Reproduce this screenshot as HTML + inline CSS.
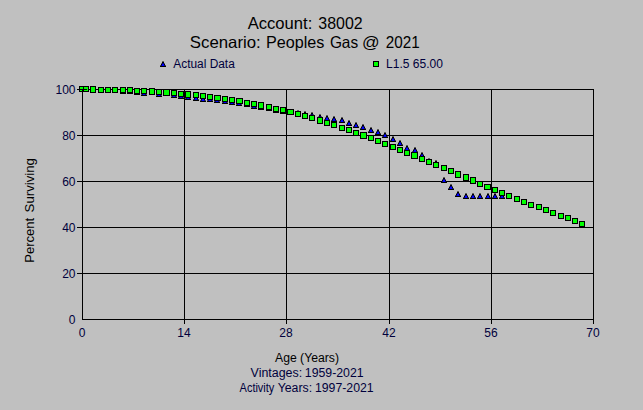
<!DOCTYPE html>
<html><head><meta charset="utf-8"><title>Account: 38002</title>
<style>
html,body{margin:0;padding:0;background:#c0c0c0;}
svg{display:block;font-family:"Liberation Sans",Arial,sans-serif;}
.t{fill:#000;}
.n{fill:#00003c;}
</style></head>
<body>
<svg width="643" height="410" viewBox="0 0 643 410">
<rect x="0" y="0" width="643" height="410" fill="#c0c0c0"/>
<text class="t" y="29" font-size="16.5"><tspan x="247.7" textLength="64.62" lengthAdjust="spacingAndGlyphs">Account:</tspan> <tspan x="318.3" textLength="44.31" lengthAdjust="spacingAndGlyphs">38002</tspan></text>
<text class="t" y="48" font-size="16.5"><tspan x="189.8" textLength="70.93" lengthAdjust="spacingAndGlyphs">Scenario:</tspan> <tspan x="266.0" textLength="58.42" lengthAdjust="spacingAndGlyphs">Peoples</tspan> <tspan x="329.9" textLength="28.23" lengthAdjust="spacingAndGlyphs">Gas</tspan> <tspan x="362.0" textLength="17.64" lengthAdjust="spacingAndGlyphs">@</tspan> <tspan x="385.8" textLength="33.91" lengthAdjust="spacingAndGlyphs">2021</tspan></text>
<g shape-rendering="crispEdges" stroke="#000" stroke-width="1" fill="none">
<line x1="82.5" y1="89" x2="82.5" y2="320"/>
<line x1="184.5" y1="89" x2="184.5" y2="324"/>
<line x1="286.5" y1="89" x2="286.5" y2="324"/>
<line x1="389.5" y1="89" x2="389.5" y2="324"/>
<line x1="491.5" y1="89" x2="491.5" y2="324"/>
<line x1="593.5" y1="89" x2="593.5" y2="324"/>
<line x1="77" y1="89.5" x2="594" y2="89.5"/>
<line x1="77" y1="135.5" x2="594" y2="135.5"/>
<line x1="77" y1="181.5" x2="594" y2="181.5"/>
<line x1="77" y1="227.5" x2="594" y2="227.5"/>
<line x1="77" y1="273.5" x2="594" y2="273.5"/>
<line x1="82" y1="319.5" x2="594" y2="319.5"/>
</g>
<text class="n" x="75.5" y="93.5" font-size="12" text-anchor="end">100</text>
<text class="n" x="75.5" y="139.5" font-size="12" text-anchor="end">80</text>
<text class="n" x="75.5" y="185.5" font-size="12" text-anchor="end">60</text>
<text class="n" x="75.5" y="231.5" font-size="12" text-anchor="end">40</text>
<text class="n" x="75.5" y="277.5" font-size="12" text-anchor="end">20</text>
<text class="n" x="75.5" y="323.5" font-size="12" text-anchor="end">0</text>
<text class="n" x="82" y="337" font-size="12" text-anchor="middle">0</text>
<text class="n" x="184" y="337" font-size="12" text-anchor="middle">14</text>
<text class="n" x="286" y="337" font-size="12" text-anchor="middle">28</text>
<text class="n" x="389" y="337" font-size="12" text-anchor="middle">42</text>
<text class="n" x="491" y="337" font-size="12" text-anchor="middle">56</text>
<text class="n" x="593" y="337" font-size="12" text-anchor="middle">70</text>
<g shape-rendering="crispEdges">
<g transform="translate(79,86)" shape-rendering="geometricPrecision"><path fill="#000" d="M2.5 0h1v1h-1zM2 1h2v1h-2zM1.5 2h3v1h-3zM1 3h4v1h-4zM0.4 4h5.2v1h-5.2zM0 5h6v1h-6z"/><path fill="#0000ff" d="M2.6 2h.9v1h-.9zM2 3h2v1h-2zM1.5 4h3v1h-3z"/></g>
<g transform="translate(83,86)" shape-rendering="geometricPrecision"><path fill="#000" d="M2.5 0h1v1h-1zM2 1h2v1h-2zM1.5 2h3v1h-3zM1 3h4v1h-4zM0.4 4h5.2v1h-5.2zM0 5h6v1h-6z"/><path fill="#0000ff" d="M2.6 2h.9v1h-.9zM2 3h2v1h-2zM1.5 4h3v1h-3z"/></g>
<g transform="translate(90,86)" shape-rendering="geometricPrecision"><path fill="#000" d="M2.5 0h1v1h-1zM2 1h2v1h-2zM1.5 2h3v1h-3zM1 3h4v1h-4zM0.4 4h5.2v1h-5.2zM0 5h6v1h-6z"/><path fill="#0000ff" d="M2.6 2h.9v1h-.9zM2 3h2v1h-2zM1.5 4h3v1h-3z"/></g>
<g transform="translate(98,87)" shape-rendering="geometricPrecision"><path fill="#000" d="M2.5 0h1v1h-1zM2 1h2v1h-2zM1.5 2h3v1h-3zM1 3h4v1h-4zM0.4 4h5.2v1h-5.2zM0 5h6v1h-6z"/><path fill="#0000ff" d="M2.6 2h.9v1h-.9zM2 3h2v1h-2zM1.5 4h3v1h-3z"/></g>
<g transform="translate(105,87)" shape-rendering="geometricPrecision"><path fill="#000" d="M2.5 0h1v1h-1zM2 1h2v1h-2zM1.5 2h3v1h-3zM1 3h4v1h-4zM0.4 4h5.2v1h-5.2zM0 5h6v1h-6z"/><path fill="#0000ff" d="M2.6 2h.9v1h-.9zM2 3h2v1h-2zM1.5 4h3v1h-3z"/></g>
<g transform="translate(112,87)" shape-rendering="geometricPrecision"><path fill="#000" d="M2.5 0h1v1h-1zM2 1h2v1h-2zM1.5 2h3v1h-3zM1 3h4v1h-4zM0.4 4h5.2v1h-5.2zM0 5h6v1h-6z"/><path fill="#0000ff" d="M2.6 2h.9v1h-.9zM2 3h2v1h-2zM1.5 4h3v1h-3z"/></g>
<g transform="translate(120,88)" shape-rendering="geometricPrecision"><path fill="#000" d="M2.5 0h1v1h-1zM2 1h2v1h-2zM1.5 2h3v1h-3zM1 3h4v1h-4zM0.4 4h5.2v1h-5.2zM0 5h6v1h-6z"/><path fill="#0000ff" d="M2.6 2h.9v1h-.9zM2 3h2v1h-2zM1.5 4h3v1h-3z"/></g>
<g transform="translate(127,88)" shape-rendering="geometricPrecision"><path fill="#000" d="M2.5 0h1v1h-1zM2 1h2v1h-2zM1.5 2h3v1h-3zM1 3h4v1h-4zM0.4 4h5.2v1h-5.2zM0 5h6v1h-6z"/><path fill="#0000ff" d="M2.6 2h.9v1h-.9zM2 3h2v1h-2zM1.5 4h3v1h-3z"/></g>
<g transform="translate(134,89)" shape-rendering="geometricPrecision"><path fill="#000" d="M2.5 0h1v1h-1zM2 1h2v1h-2zM1.5 2h3v1h-3zM1 3h4v1h-4zM0.4 4h5.2v1h-5.2zM0 5h6v1h-6z"/><path fill="#0000ff" d="M2.6 2h.9v1h-.9zM2 3h2v1h-2zM1.5 4h3v1h-3z"/></g>
<g transform="translate(141,90)" shape-rendering="geometricPrecision"><path fill="#000" d="M2.5 0h1v1h-1zM2 1h2v1h-2zM1.5 2h3v1h-3zM1 3h4v1h-4zM0.4 4h5.2v1h-5.2zM0 5h6v1h-6z"/><path fill="#0000ff" d="M2.6 2h.9v1h-.9zM2 3h2v1h-2zM1.5 4h3v1h-3z"/></g>
<g transform="translate(149,89)" shape-rendering="geometricPrecision"><path fill="#000" d="M2.5 0h1v1h-1zM2 1h2v1h-2zM1.5 2h3v1h-3zM1 3h4v1h-4zM0.4 4h5.2v1h-5.2zM0 5h6v1h-6z"/><path fill="#0000ff" d="M2.6 2h.9v1h-.9zM2 3h2v1h-2zM1.5 4h3v1h-3z"/></g>
<g transform="translate(156,91)" shape-rendering="geometricPrecision"><path fill="#000" d="M2.5 0h1v1h-1zM2 1h2v1h-2zM1.5 2h3v1h-3zM1 3h4v1h-4zM0.4 4h5.2v1h-5.2zM0 5h6v1h-6z"/><path fill="#0000ff" d="M2.6 2h.9v1h-.9zM2 3h2v1h-2zM1.5 4h3v1h-3z"/></g>
<g transform="translate(163,90)" shape-rendering="geometricPrecision"><path fill="#000" d="M2.5 0h1v1h-1zM2 1h2v1h-2zM1.5 2h3v1h-3zM1 3h4v1h-4zM0.4 4h5.2v1h-5.2zM0 5h6v1h-6z"/><path fill="#0000ff" d="M2.6 2h.9v1h-.9zM2 3h2v1h-2zM1.5 4h3v1h-3z"/></g>
<g transform="translate(171,92)" shape-rendering="geometricPrecision"><path fill="#000" d="M2.5 0h1v1h-1zM2 1h2v1h-2zM1.5 2h3v1h-3zM1 3h4v1h-4zM0.4 4h5.2v1h-5.2zM0 5h6v1h-6z"/><path fill="#0000ff" d="M2.6 2h.9v1h-.9zM2 3h2v1h-2zM1.5 4h3v1h-3z"/></g>
<g transform="translate(178,93)" shape-rendering="geometricPrecision"><path fill="#000" d="M2.5 0h1v1h-1zM2 1h2v1h-2zM1.5 2h3v1h-3zM1 3h4v1h-4zM0.4 4h5.2v1h-5.2zM0 5h6v1h-6z"/><path fill="#0000ff" d="M2.6 2h.9v1h-.9zM2 3h2v1h-2zM1.5 4h3v1h-3z"/></g>
<g transform="translate(185,94)" shape-rendering="geometricPrecision"><path fill="#000" d="M2.5 0h1v1h-1zM2 1h2v1h-2zM1.5 2h3v1h-3zM1 3h4v1h-4zM0.4 4h5.2v1h-5.2zM0 5h6v1h-6z"/><path fill="#0000ff" d="M2.6 2h.9v1h-.9zM2 3h2v1h-2zM1.5 4h3v1h-3z"/></g>
<g transform="translate(193,95)" shape-rendering="geometricPrecision"><path fill="#000" d="M2.5 0h1v1h-1zM2 1h2v1h-2zM1.5 2h3v1h-3zM1 3h4v1h-4zM0.4 4h5.2v1h-5.2zM0 5h6v1h-6z"/><path fill="#0000ff" d="M2.6 2h.9v1h-.9zM2 3h2v1h-2zM1.5 4h3v1h-3z"/></g>
<g transform="translate(200,96)" shape-rendering="geometricPrecision"><path fill="#000" d="M2.5 0h1v1h-1zM2 1h2v1h-2zM1.5 2h3v1h-3zM1 3h4v1h-4zM0.4 4h5.2v1h-5.2zM0 5h6v1h-6z"/><path fill="#0000ff" d="M2.6 2h.9v1h-.9zM2 3h2v1h-2zM1.5 4h3v1h-3z"/></g>
<g transform="translate(207,96)" shape-rendering="geometricPrecision"><path fill="#000" d="M2.5 0h1v1h-1zM2 1h2v1h-2zM1.5 2h3v1h-3zM1 3h4v1h-4zM0.4 4h5.2v1h-5.2zM0 5h6v1h-6z"/><path fill="#0000ff" d="M2.6 2h.9v1h-.9zM2 3h2v1h-2zM1.5 4h3v1h-3z"/></g>
<g transform="translate(214,97)" shape-rendering="geometricPrecision"><path fill="#000" d="M2.5 0h1v1h-1zM2 1h2v1h-2zM1.5 2h3v1h-3zM1 3h4v1h-4zM0.4 4h5.2v1h-5.2zM0 5h6v1h-6z"/><path fill="#0000ff" d="M2.6 2h.9v1h-.9zM2 3h2v1h-2zM1.5 4h3v1h-3z"/></g>
<g transform="translate(222,98)" shape-rendering="geometricPrecision"><path fill="#000" d="M2.5 0h1v1h-1zM2 1h2v1h-2zM1.5 2h3v1h-3zM1 3h4v1h-4zM0.4 4h5.2v1h-5.2zM0 5h6v1h-6z"/><path fill="#0000ff" d="M2.6 2h.9v1h-.9zM2 3h2v1h-2zM1.5 4h3v1h-3z"/></g>
<g transform="translate(229,99)" shape-rendering="geometricPrecision"><path fill="#000" d="M2.5 0h1v1h-1zM2 1h2v1h-2zM1.5 2h3v1h-3zM1 3h4v1h-4zM0.4 4h5.2v1h-5.2zM0 5h6v1h-6z"/><path fill="#0000ff" d="M2.6 2h.9v1h-.9zM2 3h2v1h-2zM1.5 4h3v1h-3z"/></g>
<g transform="translate(236,100)" shape-rendering="geometricPrecision"><path fill="#000" d="M2.5 0h1v1h-1zM2 1h2v1h-2zM1.5 2h3v1h-3zM1 3h4v1h-4zM0.4 4h5.2v1h-5.2zM0 5h6v1h-6z"/><path fill="#0000ff" d="M2.6 2h.9v1h-.9zM2 3h2v1h-2zM1.5 4h3v1h-3z"/></g>
<g transform="translate(244,101)" shape-rendering="geometricPrecision"><path fill="#000" d="M2.5 0h1v1h-1zM2 1h2v1h-2zM1.5 2h3v1h-3zM1 3h4v1h-4zM0.4 4h5.2v1h-5.2zM0 5h6v1h-6z"/><path fill="#0000ff" d="M2.6 2h.9v1h-.9zM2 3h2v1h-2zM1.5 4h3v1h-3z"/></g>
<g transform="translate(251,103)" shape-rendering="geometricPrecision"><path fill="#000" d="M2.5 0h1v1h-1zM2 1h2v1h-2zM1.5 2h3v1h-3zM1 3h4v1h-4zM0.4 4h5.2v1h-5.2zM0 5h6v1h-6z"/><path fill="#0000ff" d="M2.6 2h.9v1h-.9zM2 3h2v1h-2zM1.5 4h3v1h-3z"/></g>
<g transform="translate(258,104)" shape-rendering="geometricPrecision"><path fill="#000" d="M2.5 0h1v1h-1zM2 1h2v1h-2zM1.5 2h3v1h-3zM1 3h4v1h-4zM0.4 4h5.2v1h-5.2zM0 5h6v1h-6z"/><path fill="#0000ff" d="M2.6 2h.9v1h-.9zM2 3h2v1h-2zM1.5 4h3v1h-3z"/></g>
<g transform="translate(266,105)" shape-rendering="geometricPrecision"><path fill="#000" d="M2.5 0h1v1h-1zM2 1h2v1h-2zM1.5 2h3v1h-3zM1 3h4v1h-4zM0.4 4h5.2v1h-5.2zM0 5h6v1h-6z"/><path fill="#0000ff" d="M2.6 2h.9v1h-.9zM2 3h2v1h-2zM1.5 4h3v1h-3z"/></g>
<g transform="translate(273,107)" shape-rendering="geometricPrecision"><path fill="#000" d="M2.5 0h1v1h-1zM2 1h2v1h-2zM1.5 2h3v1h-3zM1 3h4v1h-4zM0.4 4h5.2v1h-5.2zM0 5h6v1h-6z"/><path fill="#0000ff" d="M2.6 2h.9v1h-.9zM2 3h2v1h-2zM1.5 4h3v1h-3z"/></g>
<g transform="translate(280,108)" shape-rendering="geometricPrecision"><path fill="#000" d="M2.5 0h1v1h-1zM2 1h2v1h-2zM1.5 2h3v1h-3zM1 3h4v1h-4zM0.4 4h5.2v1h-5.2zM0 5h6v1h-6z"/><path fill="#0000ff" d="M2.6 2h.9v1h-.9zM2 3h2v1h-2zM1.5 4h3v1h-3z"/></g>
<g transform="translate(287,109)" shape-rendering="geometricPrecision"><path fill="#000" d="M2.5 0h1v1h-1zM2 1h2v1h-2zM1.5 2h3v1h-3zM1 3h4v1h-4zM0.4 4h5.2v1h-5.2zM0 5h6v1h-6z"/><path fill="#0000ff" d="M2.6 2h.9v1h-.9zM2 3h2v1h-2zM1.5 4h3v1h-3z"/></g>
<g transform="translate(295,110)" shape-rendering="geometricPrecision"><path fill="#000" d="M2.5 0h1v1h-1zM2 1h2v1h-2zM1.5 2h3v1h-3zM1 3h4v1h-4zM0.4 4h5.2v1h-5.2zM0 5h6v1h-6z"/><path fill="#0000ff" d="M2.6 2h.9v1h-.9zM2 3h2v1h-2zM1.5 4h3v1h-3z"/></g>
<g transform="translate(302,111)" shape-rendering="geometricPrecision"><path fill="#000" d="M2.5 0h1v1h-1zM2 1h2v1h-2zM1.5 2h3v1h-3zM1 3h4v1h-4zM0.4 4h5.2v1h-5.2zM0 5h6v1h-6z"/><path fill="#0000ff" d="M2.6 2h.9v1h-.9zM2 3h2v1h-2zM1.5 4h3v1h-3z"/></g>
<g transform="translate(309,112)" shape-rendering="geometricPrecision"><path fill="#000" d="M2.5 0h1v1h-1zM2 1h2v1h-2zM1.5 2h3v1h-3zM1 3h4v1h-4zM0.4 4h5.2v1h-5.2zM0 5h6v1h-6z"/><path fill="#0000ff" d="M2.6 2h.9v1h-.9zM2 3h2v1h-2zM1.5 4h3v1h-3z"/></g>
<g transform="translate(317,114)" shape-rendering="geometricPrecision"><path fill="#000" d="M2.5 0h1v1h-1zM2 1h2v1h-2zM1.5 2h3v1h-3zM1 3h4v1h-4zM0.4 4h5.2v1h-5.2zM0 5h6v1h-6z"/><path fill="#0000ff" d="M2.6 2h.9v1h-.9zM2 3h2v1h-2zM1.5 4h3v1h-3z"/></g>
<g transform="translate(324,115)" shape-rendering="geometricPrecision"><path fill="#000" d="M2.5 0h1v1h-1zM2 1h2v1h-2zM1.5 2h3v1h-3zM1 3h4v1h-4zM0.4 4h5.2v1h-5.2zM0 5h6v1h-6z"/><path fill="#0000ff" d="M2.6 2h.9v1h-.9zM2 3h2v1h-2zM1.5 4h3v1h-3z"/></g>
<g transform="translate(331,116)" shape-rendering="geometricPrecision"><path fill="#000" d="M2.5 0h1v1h-1zM2 1h2v1h-2zM1.5 2h3v1h-3zM1 3h4v1h-4zM0.4 4h5.2v1h-5.2zM0 5h6v1h-6z"/><path fill="#0000ff" d="M2.6 2h.9v1h-.9zM2 3h2v1h-2zM1.5 4h3v1h-3z"/></g>
<g transform="translate(339,117)" shape-rendering="geometricPrecision"><path fill="#000" d="M2.5 0h1v1h-1zM2 1h2v1h-2zM1.5 2h3v1h-3zM1 3h4v1h-4zM0.4 4h5.2v1h-5.2zM0 5h6v1h-6z"/><path fill="#0000ff" d="M2.6 2h.9v1h-.9zM2 3h2v1h-2zM1.5 4h3v1h-3z"/></g>
<g transform="translate(346,120)" shape-rendering="geometricPrecision"><path fill="#000" d="M2.5 0h1v1h-1zM2 1h2v1h-2zM1.5 2h3v1h-3zM1 3h4v1h-4zM0.4 4h5.2v1h-5.2zM0 5h6v1h-6z"/><path fill="#0000ff" d="M2.6 2h.9v1h-.9zM2 3h2v1h-2zM1.5 4h3v1h-3z"/></g>
<g transform="translate(353,122)" shape-rendering="geometricPrecision"><path fill="#000" d="M2.5 0h1v1h-1zM2 1h2v1h-2zM1.5 2h3v1h-3zM1 3h4v1h-4zM0.4 4h5.2v1h-5.2zM0 5h6v1h-6z"/><path fill="#0000ff" d="M2.6 2h.9v1h-.9zM2 3h2v1h-2zM1.5 4h3v1h-3z"/></g>
<g transform="translate(360,124)" shape-rendering="geometricPrecision"><path fill="#000" d="M2.5 0h1v1h-1zM2 1h2v1h-2zM1.5 2h3v1h-3zM1 3h4v1h-4zM0.4 4h5.2v1h-5.2zM0 5h6v1h-6z"/><path fill="#0000ff" d="M2.6 2h.9v1h-.9zM2 3h2v1h-2zM1.5 4h3v1h-3z"/></g>
<g transform="translate(368,127)" shape-rendering="geometricPrecision"><path fill="#000" d="M2.5 0h1v1h-1zM2 1h2v1h-2zM1.5 2h3v1h-3zM1 3h4v1h-4zM0.4 4h5.2v1h-5.2zM0 5h6v1h-6z"/><path fill="#0000ff" d="M2.6 2h.9v1h-.9zM2 3h2v1h-2zM1.5 4h3v1h-3z"/></g>
<g transform="translate(375,129)" shape-rendering="geometricPrecision"><path fill="#000" d="M2.5 0h1v1h-1zM2 1h2v1h-2zM1.5 2h3v1h-3zM1 3h4v1h-4zM0.4 4h5.2v1h-5.2zM0 5h6v1h-6z"/><path fill="#0000ff" d="M2.6 2h.9v1h-.9zM2 3h2v1h-2zM1.5 4h3v1h-3z"/></g>
<g transform="translate(382,132)" shape-rendering="geometricPrecision"><path fill="#000" d="M2.5 0h1v1h-1zM2 1h2v1h-2zM1.5 2h3v1h-3zM1 3h4v1h-4zM0.4 4h5.2v1h-5.2zM0 5h6v1h-6z"/><path fill="#0000ff" d="M2.6 2h.9v1h-.9zM2 3h2v1h-2zM1.5 4h3v1h-3z"/></g>
<g transform="translate(390,136)" shape-rendering="geometricPrecision"><path fill="#000" d="M2.5 0h1v1h-1zM2 1h2v1h-2zM1.5 2h3v1h-3zM1 3h4v1h-4zM0.4 4h5.2v1h-5.2zM0 5h6v1h-6z"/><path fill="#0000ff" d="M2.6 2h.9v1h-.9zM2 3h2v1h-2zM1.5 4h3v1h-3z"/></g>
<g transform="translate(397,140)" shape-rendering="geometricPrecision"><path fill="#000" d="M2.5 0h1v1h-1zM2 1h2v1h-2zM1.5 2h3v1h-3zM1 3h4v1h-4zM0.4 4h5.2v1h-5.2zM0 5h6v1h-6z"/><path fill="#0000ff" d="M2.6 2h.9v1h-.9zM2 3h2v1h-2zM1.5 4h3v1h-3z"/></g>
<g transform="translate(404,145)" shape-rendering="geometricPrecision"><path fill="#000" d="M2.5 0h1v1h-1zM2 1h2v1h-2zM1.5 2h3v1h-3zM1 3h4v1h-4zM0.4 4h5.2v1h-5.2zM0 5h6v1h-6z"/><path fill="#0000ff" d="M2.6 2h.9v1h-.9zM2 3h2v1h-2zM1.5 4h3v1h-3z"/></g>
<g transform="translate(412,147)" shape-rendering="geometricPrecision"><path fill="#000" d="M2.5 0h1v1h-1zM2 1h2v1h-2zM1.5 2h3v1h-3zM1 3h4v1h-4zM0.4 4h5.2v1h-5.2zM0 5h6v1h-6z"/><path fill="#0000ff" d="M2.6 2h.9v1h-.9zM2 3h2v1h-2zM1.5 4h3v1h-3z"/></g>
<g transform="translate(419,152)" shape-rendering="geometricPrecision"><path fill="#000" d="M2.5 0h1v1h-1zM2 1h2v1h-2zM1.5 2h3v1h-3zM1 3h4v1h-4zM0.4 4h5.2v1h-5.2zM0 5h6v1h-6z"/><path fill="#0000ff" d="M2.6 2h.9v1h-.9zM2 3h2v1h-2zM1.5 4h3v1h-3z"/></g>
<g transform="translate(426,158)" shape-rendering="geometricPrecision"><path fill="#000" d="M2.5 0h1v1h-1zM2 1h2v1h-2zM1.5 2h3v1h-3zM1 3h4v1h-4zM0.4 4h5.2v1h-5.2zM0 5h6v1h-6z"/><path fill="#0000ff" d="M2.6 2h.9v1h-.9zM2 3h2v1h-2zM1.5 4h3v1h-3z"/></g>
<g transform="translate(433,160)" shape-rendering="geometricPrecision"><path fill="#000" d="M2.5 0h1v1h-1zM2 1h2v1h-2zM1.5 2h3v1h-3zM1 3h4v1h-4zM0.4 4h5.2v1h-5.2zM0 5h6v1h-6z"/><path fill="#0000ff" d="M2.6 2h.9v1h-.9zM2 3h2v1h-2zM1.5 4h3v1h-3z"/></g>
<g transform="translate(441,177)" shape-rendering="geometricPrecision"><path fill="#000" d="M2.5 0h1v1h-1zM2 1h2v1h-2zM1.5 2h3v1h-3zM1 3h4v1h-4zM0.4 4h5.2v1h-5.2zM0 5h6v1h-6z"/><path fill="#0000ff" d="M2.6 2h.9v1h-.9zM2 3h2v1h-2zM1.5 4h3v1h-3z"/></g>
<g transform="translate(448,184)" shape-rendering="geometricPrecision"><path fill="#000" d="M2.5 0h1v1h-1zM2 1h2v1h-2zM1.5 2h3v1h-3zM1 3h4v1h-4zM0.4 4h5.2v1h-5.2zM0 5h6v1h-6z"/><path fill="#0000ff" d="M2.6 2h.9v1h-.9zM2 3h2v1h-2zM1.5 4h3v1h-3z"/></g>
<g transform="translate(455,191)" shape-rendering="geometricPrecision"><path fill="#000" d="M2.5 0h1v1h-1zM2 1h2v1h-2zM1.5 2h3v1h-3zM1 3h4v1h-4zM0.4 4h5.2v1h-5.2zM0 5h6v1h-6z"/><path fill="#0000ff" d="M2.6 2h.9v1h-.9zM2 3h2v1h-2zM1.5 4h3v1h-3z"/></g>
<g transform="translate(463,193)" shape-rendering="geometricPrecision"><path fill="#000" d="M2.5 0h1v1h-1zM2 1h2v1h-2zM1.5 2h3v1h-3zM1 3h4v1h-4zM0.4 4h5.2v1h-5.2zM0 5h6v1h-6z"/><path fill="#0000ff" d="M2.6 2h.9v1h-.9zM2 3h2v1h-2zM1.5 4h3v1h-3z"/></g>
<g transform="translate(470,193)" shape-rendering="geometricPrecision"><path fill="#000" d="M2.5 0h1v1h-1zM2 1h2v1h-2zM1.5 2h3v1h-3zM1 3h4v1h-4zM0.4 4h5.2v1h-5.2zM0 5h6v1h-6z"/><path fill="#0000ff" d="M2.6 2h.9v1h-.9zM2 3h2v1h-2zM1.5 4h3v1h-3z"/></g>
<g transform="translate(477,193)" shape-rendering="geometricPrecision"><path fill="#000" d="M2.5 0h1v1h-1zM2 1h2v1h-2zM1.5 2h3v1h-3zM1 3h4v1h-4zM0.4 4h5.2v1h-5.2zM0 5h6v1h-6z"/><path fill="#0000ff" d="M2.6 2h.9v1h-.9zM2 3h2v1h-2zM1.5 4h3v1h-3z"/></g>
<g transform="translate(485,193)" shape-rendering="geometricPrecision"><path fill="#000" d="M2.5 0h1v1h-1zM2 1h2v1h-2zM1.5 2h3v1h-3zM1 3h4v1h-4zM0.4 4h5.2v1h-5.2zM0 5h6v1h-6z"/><path fill="#0000ff" d="M2.6 2h.9v1h-.9zM2 3h2v1h-2zM1.5 4h3v1h-3z"/></g>
<g transform="translate(492,193)" shape-rendering="geometricPrecision"><path fill="#000" d="M2.5 0h1v1h-1zM2 1h2v1h-2zM1.5 2h3v1h-3zM1 3h4v1h-4zM0.4 4h5.2v1h-5.2zM0 5h6v1h-6z"/><path fill="#0000ff" d="M2.6 2h.9v1h-.9zM2 3h2v1h-2zM1.5 4h3v1h-3z"/></g>
<g transform="translate(499,193)" shape-rendering="geometricPrecision"><path fill="#000" d="M2.5 0h1v1h-1zM2 1h2v1h-2zM1.5 2h3v1h-3zM1 3h4v1h-4zM0.4 4h5.2v1h-5.2zM0 5h6v1h-6z"/><path fill="#0000ff" d="M2.6 2h.9v1h-.9zM2 3h2v1h-2zM1.5 4h3v1h-3z"/></g>
<rect x="79" y="86" width="6" height="6" fill="#000"/><rect x="80" y="87" width="4" height="4" fill="#00ff00"/>
<rect x="83" y="86" width="6" height="6" fill="#000"/><rect x="84" y="87" width="4" height="4" fill="#00ff00"/>
<rect x="90" y="86" width="6" height="7" fill="#000"/><rect x="91" y="87" width="4" height="5" fill="#00ff00"/>
<rect x="98" y="87" width="6" height="6" fill="#000"/><rect x="99" y="88" width="4" height="4" fill="#00ff00"/>
<rect x="105" y="87" width="6" height="6" fill="#000"/><rect x="106" y="88" width="4" height="4" fill="#00ff00"/>
<rect x="112" y="87" width="6" height="6" fill="#000"/><rect x="113" y="88" width="4" height="4" fill="#00ff00"/>
<rect x="120" y="87" width="6" height="6" fill="#000"/><rect x="121" y="88" width="4" height="4" fill="#00ff00"/>
<rect x="127" y="87" width="6" height="6" fill="#000"/><rect x="128" y="88" width="4" height="4" fill="#00ff00"/>
<rect x="134" y="88" width="6" height="6" fill="#000"/><rect x="135" y="89" width="4" height="4" fill="#00ff00"/>
<rect x="141" y="88" width="6" height="6" fill="#000"/><rect x="142" y="89" width="4" height="4" fill="#00ff00"/>
<rect x="149" y="88" width="6" height="7" fill="#000"/><rect x="150" y="89" width="4" height="5" fill="#00ff00"/>
<rect x="156" y="89" width="6" height="6" fill="#000"/><rect x="157" y="90" width="4" height="4" fill="#00ff00"/>
<rect x="163" y="89" width="7" height="7" fill="#000"/><rect x="164" y="90" width="5" height="5" fill="#00ff00"/>
<rect x="171" y="90" width="6" height="6" fill="#000"/><rect x="172" y="91" width="4" height="4" fill="#00ff00"/>
<rect x="178" y="91" width="6" height="6" fill="#000"/><rect x="179" y="92" width="4" height="4" fill="#00ff00"/>
<rect x="185" y="91" width="6" height="7" fill="#000"/><rect x="186" y="92" width="4" height="5" fill="#00ff00"/>
<rect x="193" y="92" width="6" height="6" fill="#000"/><rect x="194" y="93" width="4" height="4" fill="#00ff00"/>
<rect x="200" y="93" width="6" height="6" fill="#000"/><rect x="201" y="94" width="4" height="4" fill="#00ff00"/>
<rect x="207" y="94" width="6" height="6" fill="#000"/><rect x="208" y="95" width="4" height="4" fill="#00ff00"/>
<rect x="214" y="95" width="7" height="6" fill="#000"/><rect x="215" y="96" width="5" height="4" fill="#00ff00"/>
<rect x="222" y="96" width="6" height="6" fill="#000"/><rect x="223" y="97" width="4" height="4" fill="#00ff00"/>
<rect x="229" y="97" width="6" height="6" fill="#000"/><rect x="230" y="98" width="4" height="4" fill="#00ff00"/>
<rect x="236" y="98" width="7" height="6" fill="#000"/><rect x="237" y="99" width="5" height="4" fill="#00ff00"/>
<rect x="244" y="100" width="6" height="6" fill="#000"/><rect x="245" y="101" width="4" height="4" fill="#00ff00"/>
<rect x="251" y="101" width="6" height="6" fill="#000"/><rect x="252" y="102" width="4" height="4" fill="#00ff00"/>
<rect x="258" y="102" width="6" height="7" fill="#000"/><rect x="259" y="103" width="4" height="5" fill="#00ff00"/>
<rect x="266" y="104" width="6" height="6" fill="#000"/><rect x="267" y="105" width="4" height="4" fill="#00ff00"/>
<rect x="273" y="106" width="6" height="6" fill="#000"/><rect x="274" y="107" width="4" height="4" fill="#00ff00"/>
<rect x="280" y="107" width="6" height="6" fill="#000"/><rect x="281" y="108" width="4" height="4" fill="#00ff00"/>
<rect x="287" y="109" width="7" height="6" fill="#000"/><rect x="288" y="110" width="5" height="4" fill="#00ff00"/>
<rect x="295" y="111" width="6" height="6" fill="#000"/><rect x="296" y="112" width="4" height="4" fill="#00ff00"/>
<rect x="302" y="113" width="6" height="6" fill="#000"/><rect x="303" y="114" width="4" height="4" fill="#00ff00"/>
<rect x="309" y="115" width="6" height="6" fill="#000"/><rect x="310" y="116" width="4" height="4" fill="#00ff00"/>
<rect x="317" y="117" width="6" height="7" fill="#000"/><rect x="318" y="118" width="4" height="5" fill="#00ff00"/>
<rect x="324" y="120" width="6" height="6" fill="#000"/><rect x="325" y="121" width="4" height="4" fill="#00ff00"/>
<rect x="331" y="122" width="6" height="6" fill="#000"/><rect x="332" y="123" width="4" height="4" fill="#00ff00"/>
<rect x="339" y="125" width="6" height="6" fill="#000"/><rect x="340" y="126" width="4" height="4" fill="#00ff00"/>
<rect x="346" y="127" width="6" height="6" fill="#000"/><rect x="347" y="128" width="4" height="4" fill="#00ff00"/>
<rect x="353" y="130" width="6" height="6" fill="#000"/><rect x="354" y="131" width="4" height="4" fill="#00ff00"/>
<rect x="360" y="132" width="7" height="7" fill="#000"/><rect x="361" y="133" width="5" height="5" fill="#00ff00"/>
<rect x="368" y="135" width="6" height="6" fill="#000"/><rect x="369" y="136" width="4" height="4" fill="#00ff00"/>
<rect x="375" y="138" width="6" height="6" fill="#000"/><rect x="376" y="139" width="4" height="4" fill="#00ff00"/>
<rect x="382" y="141" width="6" height="6" fill="#000"/><rect x="383" y="142" width="4" height="4" fill="#00ff00"/>
<rect x="390" y="144" width="6" height="6" fill="#000"/><rect x="391" y="145" width="4" height="4" fill="#00ff00"/>
<rect x="397" y="147" width="6" height="6" fill="#000"/><rect x="398" y="148" width="4" height="4" fill="#00ff00"/>
<rect x="404" y="150" width="6" height="6" fill="#000"/><rect x="405" y="151" width="4" height="4" fill="#00ff00"/>
<rect x="411" y="152" width="7" height="7" fill="#000"/><rect x="412" y="153" width="5" height="5" fill="#00ff00"/>
<rect x="419" y="156" width="6" height="6" fill="#000"/><rect x="420" y="157" width="4" height="4" fill="#00ff00"/>
<rect x="426" y="159" width="6" height="6" fill="#000"/><rect x="427" y="160" width="4" height="4" fill="#00ff00"/>
<rect x="433" y="162" width="6" height="6" fill="#000"/><rect x="434" y="163" width="4" height="4" fill="#00ff00"/>
<rect x="441" y="165" width="6" height="6" fill="#000"/><rect x="442" y="166" width="4" height="4" fill="#00ff00"/>
<rect x="448" y="168" width="6" height="6" fill="#000"/><rect x="449" y="169" width="4" height="4" fill="#00ff00"/>
<rect x="455" y="171" width="6" height="7" fill="#000"/><rect x="456" y="172" width="4" height="5" fill="#00ff00"/>
<rect x="463" y="174" width="6" height="7" fill="#000"/><rect x="464" y="175" width="4" height="5" fill="#00ff00"/>
<rect x="470" y="177" width="6" height="7" fill="#000"/><rect x="471" y="178" width="4" height="5" fill="#00ff00"/>
<rect x="477" y="181" width="6" height="6" fill="#000"/><rect x="478" y="182" width="4" height="4" fill="#00ff00"/>
<rect x="484" y="184" width="7" height="6" fill="#000"/><rect x="485" y="185" width="5" height="4" fill="#00ff00"/>
<rect x="492" y="187" width="6" height="6" fill="#000"/><rect x="493" y="188" width="4" height="4" fill="#00ff00"/>
<rect x="499" y="190" width="6" height="6" fill="#000"/><rect x="500" y="191" width="4" height="4" fill="#00ff00"/>
<rect x="506" y="193" width="6" height="6" fill="#000"/><rect x="507" y="194" width="4" height="4" fill="#00ff00"/>
<rect x="514" y="196" width="6" height="6" fill="#000"/><rect x="515" y="197" width="4" height="4" fill="#00ff00"/>
<rect x="521" y="199" width="6" height="6" fill="#000"/><rect x="522" y="200" width="4" height="4" fill="#00ff00"/>
<rect x="528" y="202" width="6" height="6" fill="#000"/><rect x="529" y="203" width="4" height="4" fill="#00ff00"/>
<rect x="536" y="204" width="6" height="6" fill="#000"/><rect x="537" y="205" width="4" height="4" fill="#00ff00"/>
<rect x="543" y="207" width="6" height="6" fill="#000"/><rect x="544" y="208" width="4" height="4" fill="#00ff00"/>
<rect x="550" y="210" width="6" height="6" fill="#000"/><rect x="551" y="211" width="4" height="4" fill="#00ff00"/>
<rect x="558" y="213" width="6" height="6" fill="#000"/><rect x="559" y="214" width="4" height="4" fill="#00ff00"/>
<rect x="565" y="215" width="6" height="6" fill="#000"/><rect x="566" y="216" width="4" height="4" fill="#00ff00"/>
<rect x="572" y="218" width="6" height="6" fill="#000"/><rect x="573" y="219" width="4" height="4" fill="#00ff00"/>
<rect x="579" y="221" width="6" height="6" fill="#000"/><rect x="580" y="222" width="4" height="4" fill="#00ff00"/>
<rect x="80" y="89" width="7" height="1" fill="#000"/><rect x="82" y="90" width="1" height="1" fill="#000"/>
<g transform="translate(160,61)" shape-rendering="geometricPrecision"><path fill="#000" d="M2.5 0h1v1h-1zM2 1h2v1h-2zM1.5 2h3v1h-3zM1 3h4v1h-4zM0.4 4h5.2v1h-5.2zM0 5h6v1h-6z"/><path fill="#0000ff" d="M2.6 2h.9v1h-.9zM2 3h2v1h-2zM1.5 4h3v1h-3z"/></g>
<rect x="373" y="61" width="6" height="6" fill="#000"/><rect x="374" y="62" width="4" height="4" fill="#00ff00"/>
</g>
<text class="n" x="173.3" y="67.6" font-size="12" textLength="61.5" lengthAdjust="spacingAndGlyphs">Actual Data</text>
<text class="n" x="386.1" y="67.6" font-size="12" textLength="56.8" lengthAdjust="spacingAndGlyphs">L1.5 65.00</text>
<text class="t" transform="translate(33.7,0) rotate(-90)" font-size="13.6"><tspan x="-262.7" y="0" textLength="44.94" lengthAdjust="spacingAndGlyphs">Percent</tspan> <tspan x="-212.4" y="0" textLength="54.32" lengthAdjust="spacingAndGlyphs">Surviving</tspan></text>
<text class="t" x="307" y="361.5" font-size="12" text-anchor="middle" textLength="64" lengthAdjust="spacingAndGlyphs">Age (Years)</text>
<text class="n" y="376.5" font-size="12"><tspan x="250.6" textLength="51.58" lengthAdjust="spacingAndGlyphs">Vintages:</tspan> <tspan x="304.8" textLength="58.83" lengthAdjust="spacingAndGlyphs">1959-2021</tspan></text>
<text class="n" y="391.5" font-size="12"><tspan x="239.6" textLength="34.71" lengthAdjust="spacingAndGlyphs">Activity</tspan> <tspan x="277.7" textLength="34.44" lengthAdjust="spacingAndGlyphs">Years:</tspan> <tspan x="314.9" textLength="58.76" lengthAdjust="spacingAndGlyphs">1997-2021</tspan></text>
</svg>
</body></html>
